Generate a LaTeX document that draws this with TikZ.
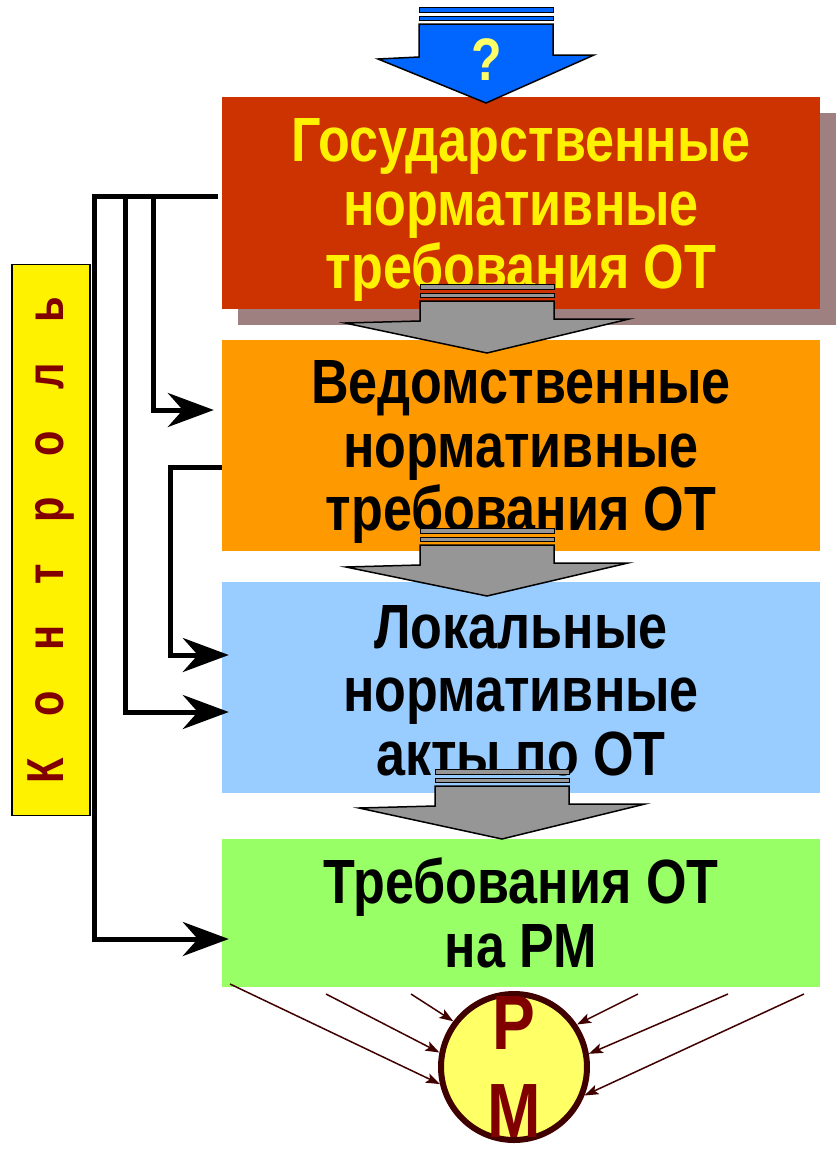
\documentclass[tikz,border=0pt]{standalone}
\usepackage{fontspec}
\setmainfont{Liberation Sans}
\newfontfamily\tallfont[FakeStretch=0.8333]{Liberation Sans}
\newfontfamily\narrowfont[FakeStretch=0.8]{Liberation Sans}
\usetikzlibrary{arrows.meta,shadows}

\definecolor{gosred}{HTML}{CC3300}
\definecolor{vedorange}{HTML}{FF9900}
\definecolor{lokblue}{HTML}{99CCFF}
\definecolor{rmgreen}{HTML}{99FF66}
\definecolor{shadowc}{HTML}{9E8080}
\definecolor{arrowblue}{HTML}{0066FF}
\definecolor{arrowgray}{HTML}{969696}
\definecolor{pmfill}{HTML}{FFFF66}
\definecolor{pmline}{HTML}{400000}
\definecolor{darkred}{HTML}{800000}

% 块箭头: 中心x, 顶y, 肩y, 尖y, 半杆宽, 半翼宽, 颜色
\newcommand{\blkarrow}[7]{%
  \draw[line width=1.5pt,fill=#7] (#1-#5,#2+17) -- (#1-#5,#3) -- (#1-#6,#3+2)
    -- (#1,#4) -- (#1+#6,#3-2) -- (#1+#5,#3-2) -- (#1+#5,#2+17) -- cycle;
  \draw[line width=1pt,fill=#7] (#1-#5,#2) rectangle (#1+#5,#2+5);
  \draw[line width=1pt,fill=#7] (#1-#5,#2+9) rectangle (#1+#5,#2+13);
}

\begin{document}
\begin{tikzpicture}[x=1pt,y=-1pt,
  level/.style={rectangle,inner sep=0pt,minimum width=598pt,align=center,
    font=\tallfont\bfseries\fontsize{62.5}{63.5}\selectfont},
  ctl/.style={line width=5pt,-{Stealth[length=46pt,width=34pt,inset=15pt]}},
  ray/.style={line width=1.5pt,draw=pmline,-{Stealth[length=14pt,width=10pt,inset=3pt]}}]
    \useasboundingbox (0,0) rectangle (837,1152);

    % 四个层级
    \node [level,fill=gosred,text=yellow,minimum height=212pt,
      drop shadow={shadow xshift=16pt,shadow yshift=-16pt,fill=shadowc,opacity=1}]
      (gos) at (521,203) {\rule{0pt}{57pt}Государственные\\нормативные\\требования ОТ};
    \node [level,fill=vedorange,minimum height=211pt] (ved) at (521,445)
      {\rule{0pt}{57pt}Ведомственные\\нормативные\\требования ОТ};
    \node [level,fill=lokblue,minimum height=211pt] (lok) at (521,687)
      {\rule{0pt}{50pt}Локальные\\нормативные\\акты по ОТ};
    \node [level,fill=rmgreen,minimum height=148pt] (rm) at (521,913)
      {Требования ОТ\\на РМ};

    % 控制条
    \node [draw,line width=1.5pt,fill=yellow,rotate=90,inner sep=0pt,
      minimum width=551pt,minimum height=78pt,text=darkred,
      font=\narrowfont\bfseries\fontsize{52}{52}\selectfont]
      (ctrl) at (51,540) {\spaceskip=41pt К о н т р о л ь\hspace{14pt}};

    % 控制线
    \coordinate (r1) at (94,500);
    \coordinate (t2) at (125,196);
    \coordinate (t3) at (153,196);
    \coordinate (r4) at (170,560);
    \draw [ctl] ([xshift=-4pt,yshift=7pt]gos.west) -| (r1) |- ([xshift=7pt,yshift=-26pt]rm.west);
    \draw [ctl] (t2) |- ([xshift=7pt,yshift=-25pt]lok.west);
    \draw [ctl] (t3) |- ([xshift=-8pt,yshift=35pt]ved.west);
    \draw [ctl] ([yshift=-22pt]ved.west) -| (r4) |- ([xshift=7pt,yshift=32pt]lok.west);

    % 块箭头
    \blkarrow{487}{284}{321}{353}{67}{142}{arrowgray}
    \blkarrow{487}{528}{565}{596}{67}{141}{arrowgray}
    \blkarrow{502}{769}{806}{839}{67}{143}{arrowgray}
    \blkarrow{486}{7}{57}{103}{67}{108}{arrowblue}
    \node [text=pmfill,font=\tallfont\bfseries\fontsize{60}{60}\selectfont] (q) at (487,60) {?};

    % 工作位置
    \node [circle,draw=pmline,line width=6pt,fill=pmfill,minimum size=146pt,inner sep=0pt] (pm) at (514,1067) {};
    \node [align=center,text=darkred,inner sep=0pt,
      font=\tallfont\bfseries\fontsize{77}{88}\selectfont] (pmtext) at (514,1067) {Р\\М};

    \coordinate (s1) at (230,984);
    \coordinate (s2) at (326,994);
    \coordinate (s3) at (411,994);
    \coordinate (s4) at (638,994);
    \coordinate (s5) at (728,994);
    \coordinate (s6) at (804,994);
    \draw [ray] (s1) -- (pm.193);
    \draw [ray] (s2) -- (pm.169);
    \draw [ray] (s3) -- (pm.143);
    \draw [ray] (s4) -- (pm.34);
    \draw [ray] (s5) -- (pm.10);
    \draw [ray] (s6) -- (pm.-22);
\end{tikzpicture}
\end{document}
